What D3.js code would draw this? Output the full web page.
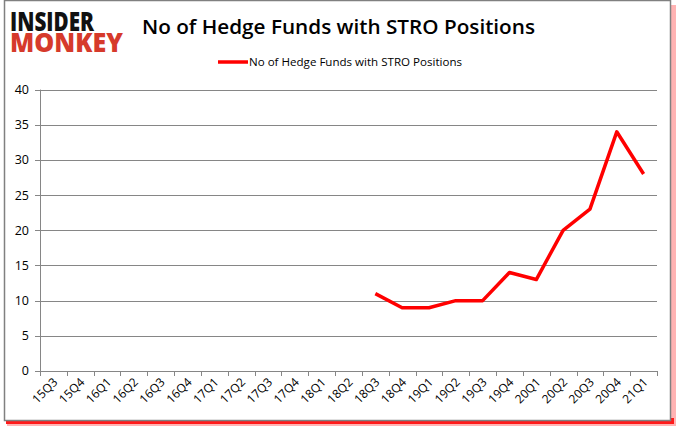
<!DOCTYPE html>
<html>
<head>
<meta charset="utf-8">
<script src="https://cdn.jsdelivr.net/npm/d3@7"></script>
<style>
  body { margin: 0; background: #fff; }
  text { font-family: "Open Sans", "Liberation Sans", sans-serif; }
</style>
</head>
<body>
<div class="chart"></div>
<script>
(function () {

	var quarters = ["15Q3", "15Q4", "16Q1", "16Q2", "16Q3", "16Q4", "17Q1", "17Q2", "17Q3", "17Q4",
		"18Q1", "18Q2", "18Q3", "18Q4", "19Q1", "19Q2", "19Q3", "19Q4", "20Q1", "20Q2", "20Q3", "20Q4", "21Q1"];
	// null = no value reported for that quarter
	var funds = [null, null, null, null, null, null, null, null, null, null,
		null, null, 11, 9, 9, 10, 10, 14, 13, 20, 23, 34, 28];
	var yTicks = [0, 5, 10, 15, 20, 25, 30, 35, 40];
	var title = "No of Hedge Funds with STRO Positions";

	var width = 678, height = 431;
	var left = 40, right = 657, top = 89.6, bottom = 371;

	var svg = d3.select(".chart")
		.append("svg")
		.attr("width", width)
		.attr("height", height);

	// frame with red shadow
	svg.append("rect").attr("x", 7).attr("y", 5).attr("width", 669).attr("height", 421)
		.attr("fill", "#ffb3b3");
	svg.append("rect").attr("x", 6).attr("y", 418).attr("width", 668).attr("height", 6)
		.attr("fill", "#ff1a1a");
	svg.append("rect").attr("x", 4.5).attr("y", 0.5).attr("width", 666).attr("height", 420)
		.attr("fill", "#fff").attr("stroke", "#808080").attr("stroke-width", 1.5);

	var x = d3.scaleBand()
		.domain(quarters)
		.range([left, right]);

	var y = d3.scaleLinear()
		.domain([0, 40])
		.range([bottom, top]);

	// gridlines
	svg.append("g")
		.selectAll("line")
		.data(yTicks)
		.enter().append("line")
		.attr("x1", left - 5).attr("x2", right)
		.attr("y1", function(d) { return Math.round(y(d)) + 0.5; })
		.attr("y2", function(d) { return Math.round(y(d)) + 0.5; })
		.attr("stroke", "#868686").attr("stroke-width", 1);

	svg.append("g")
		.selectAll("text")
		.data(yTicks)
		.enter().append("text")
		.attr("x", 29)
		.attr("y", function(d) { return y(d); })
		.attr("dy", "0.35em")
		.attr("text-anchor", "end")
		.attr("font-size", 12.5)
		.attr("fill", "#000")
		.text(function(d) { return d; });

	// y axis line
	svg.append("line")
		.attr("x1", left + 0.5).attr("x2", left + 0.5)
		.attr("y1", y(40)).attr("y2", bottom)
		.attr("stroke", "#868686");

	// x axis with band-boundary ticks
	var bounds = quarters.map(function(q) { return x(q); }).concat([right]);
	svg.append("g")
		.selectAll("line")
		.data(bounds)
		.enter().append("line")
		.attr("x1", function(d) { return Math.round(d) + 0.5; })
		.attr("x2", function(d) { return Math.round(d) + 0.5; })
		.attr("y1", bottom).attr("y2", bottom + 5)
		.attr("stroke", "#868686");

	svg.append("line")
		.attr("x1", left).attr("x2", right)
		.attr("y1", Math.round(bottom) + 0.5).attr("y2", Math.round(bottom) + 0.5)
		.attr("stroke", "#868686");

	svg.append("g")
		.selectAll("text")
		.data(quarters)
		.enter().append("text")
		.attr("transform", function(d) {
			return "translate(" + (x(d) + x.bandwidth() / 2 + 5) + "," + (bottom + 12) + ") rotate(-45)";
		})
		.attr("text-anchor", "end")
		.attr("font-size", 12)
		.attr("fill", "#000")
		.text(function(d) { return d; });

	// data line
	var line = d3.line()
		.defined(function(d) { return d != null; })
		.x(function(d, i) { return x(quarters[i]) + x.bandwidth() / 2; })
		.y(function(d) { return y(d); });

	svg.append("path")
		.datum(funds)
		.attr("d", line)
		.attr("fill", "none")
		.attr("stroke", "#ff0000")
		.attr("stroke-width", 3.5)
		.attr("stroke-linejoin", "round");

	// title
	svg.append("text")
		.attr("x", 142).attr("y", 34)
		.attr("font-size", 20.5)
		.attr("font-weight", 600)
		.attr("textLength", 393)
		.attr("lengthAdjust", "spacingAndGlyphs")
		.attr("fill", "#000")
		.text(title);

	// legend
	svg.append("line")
		.attr("x1", 218).attr("x2", 248)
		.attr("y1", 62).attr("y2", 62)
		.attr("stroke", "#ff0000").attr("stroke-width", 3.5);
	svg.append("text")
		.attr("x", 249).attr("y", 66)
		.attr("font-size", 11)
		.attr("textLength", 213)
		.attr("lengthAdjust", "spacingAndGlyphs")
		.attr("fill", "#000")
		.text(title);

	// logo, one text block with two lines
	var logo = svg.append("text")
		.attr("font-family", "Inter, sans-serif")
		.attr("font-weight", 900)
		.attr("transform", "scale(1,1.3)");
	logo.append("tspan")
		.attr("x", 10).attr("y", 31 / 1.3)
		.attr("font-size", 20)
		.attr("textLength", 84)
		.attr("lengthAdjust", "spacingAndGlyphs")
		.attr("fill", "#111")
		.text("INSIDER");
	logo.append("tspan")
		.attr("x", 10).attr("y", 52 / 1.3)
		.attr("font-size", 20)
		.attr("textLength", 113)
		.attr("lengthAdjust", "spacingAndGlyphs")
		.attr("fill", "#d63a2b")
		.text("MONKEY");

})();
</script>
</body>
</html>
